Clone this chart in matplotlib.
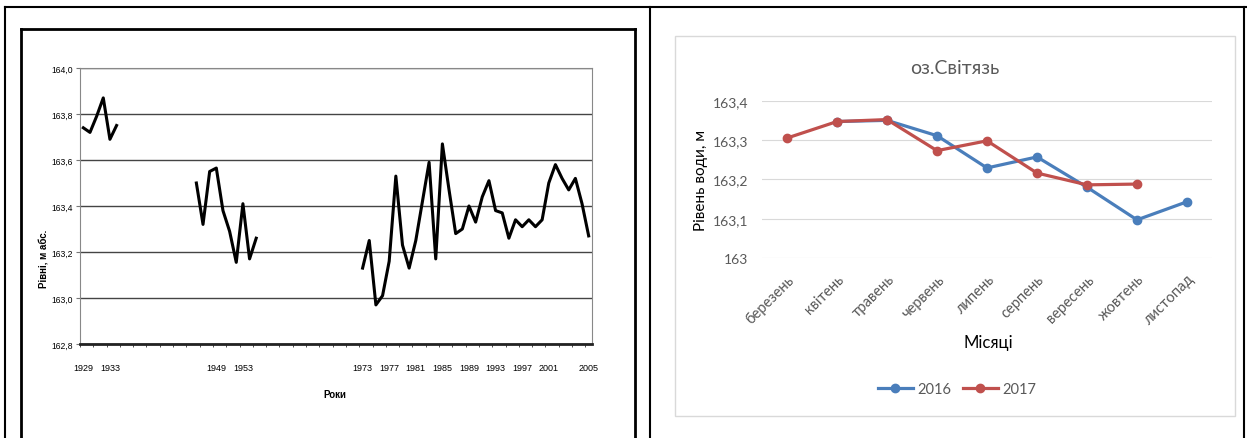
import numpy as np
import matplotlib.pyplot as plt
from matplotlib.lines import Line2D
from matplotlib.patches import Rectangle

W, H = 1247, 439

# left chart: long-term lake level, category axis with gaps
seg_starts = [0, 17, 42]
seg_levels = [
    [163.74, 163.72, 163.79, 163.87, 163.69, 163.75],
    [163.50, 163.32, 163.55, 163.565, 163.38, 163.29, 163.155, 163.41, 163.17, 163.26],
    [163.13, 163.25, 162.97, 163.01, 163.16, 163.53, 163.23, 163.13, 163.25, 163.42,
     163.59, 163.17, 163.67, 163.47, 163.28, 163.30, 163.40, 163.33, 163.44, 163.51,
     163.38, 163.37, 163.26, 163.34, 163.31, 163.34, 163.31, 163.34, 163.50, 163.58,
     163.52, 163.47, 163.52, 163.41, 163.27],
]
n_cat = 77
year_tick_pos = [0, 4, 20, 24, 42, 46, 50, 54, 58, 62, 66, 70, 76]
year_ticks = ['1929', '1933', '1949', '1953', '1973', '1977', '1981', '1985',
              '1989', '1993', '1997', '2001', '2005']
left_yticks = [162.8, 163.0, 163.2, 163.4, 163.6, 163.8, 164.0]

# right chart: monthly levels 2016/2017
months = ['березень', 'квітень', 'травень', 'червень', 'липень', 'серпень',
          'вересень', 'жовтень', 'листопад']
lev_2016 = [np.nan, 163.347, 163.350, 163.311, 163.229, 163.257, 163.180, 163.097, 163.143]
lev_2017 = [163.305, 163.347, 163.352, 163.273, 163.298, 163.216, 163.186, 163.188, np.nan]
right_yticks = [163.0, 163.1, 163.2, 163.3, 163.4]


def box(x0, y0, x1, y1):
    return [x0 / W, 1 - y1 / H, (x1 - x0) / W, (y1 - y0) / H]


def fig_line(x0, y0, x1, y1, **kw):
    fig.add_artist(Line2D([x0 / W, x1 / W], [1 - y0 / H, 1 - y1 / H],
                          transform=fig.transFigure, **kw))


fig = plt.figure(figsize=(W / 100, H / 100), dpi=100)

# table frame
fig_line(5, 8, 1247, 8, color='black', lw=1.5)
fig_line(5, 8, 5, 439, color='black', lw=1.5)
fig_line(650, 8, 650, 439, color='black', lw=1.5)
fig_line(1244, 8, 1244, 439, color='black', lw=1.5)
# scanned figure frame
fig_line(21, 30, 635, 30, color='black', lw=2)
fig_line(21, 30, 21, 439, color='black', lw=2)
fig_line(635, 30, 635, 439, color='black', lw=2)

narrow = ['Liberation Sans Narrow', 'Liberation Sans', 'DejaVu Sans']

# ---- left chart
ax1 = fig.add_axes(box(80, 69, 592, 345))
level = np.full(n_cat, np.nan)
for s, vals in zip(seg_starts, seg_levels):
    level[s:s + len(vals)] = vals
ax1.plot(np.arange(n_cat), level, color='black', lw=2.2)
ax1.set_xlim(-0.5, n_cat - 0.5)
ax1.set_ylim(162.8, 164.0)
ax1.set_yticks(left_yticks)
ax1.set_yticklabels([f'{v:.1f}'.replace('.', ',') for v in left_yticks],
                    family=narrow, fontsize=6.2)
ax1.yaxis.grid(True, color='#444444', lw=1)
ax1.set_xticks(year_tick_pos)
ax1.set_xticklabels(year_ticks, family=narrow, fontsize=6.5)
ax1.set_xticks(np.arange(0, n_cat, 2) - 0.5, minor=True)
ax1.tick_params(axis='x', which='major', length=0, pad=14)
ax1.tick_params(axis='x', which='minor', length=2.5, color='#333333', direction='out')
ax1.tick_params(axis='y', length=3, color='#777777', pad=2)
for side in ['left', 'right', 'top']:
    ax1.spines[side].set_color('#888888')
    ax1.spines[side].set_linewidth(0.8)
ax1.spines['bottom'].set_linewidth(2)
ax1.spines['bottom'].set_color('#222222')
fig.text(44 / W, 1 - 259 / H, 'Рівні, м абс.', rotation=90, ha='center', va='center',
         family=narrow, fontsize=7, fontweight='bold')
fig.text(335 / W, 1 - 395 / H, 'Роки', ha='center', va='center',
         family=narrow, fontsize=7, fontweight='bold')

# ---- right chart
excel = ['Lato', 'DejaVu Sans']
fig.add_artist(Rectangle((675 / W, 1 - 417 / H), 560 / W, 380 / H, transform=fig.transFigure,
                         facecolor='none', edgecolor='#d9d9d9', lw=1))
ax2 = fig.add_axes(box(762, 101.7, 1212, 259))
x = np.arange(len(months))
ax2.plot(x, lev_2016, color='#4a7ebb', lw=2.3, marker='o', ms=6, label='2016')
ax2.plot(x, lev_2017, color='#c0504d', lw=2.3, marker='o', ms=6, label='2017')
ax2.set_xlim(-0.5, len(months) - 0.5)
ax2.set_ylim(163.0, 163.4)
ax2.set_yticks(right_yticks)
ax2.set_yticklabels([f'{v:g}'.replace('.', ',') for v in right_yticks],
                    family=excel, fontsize=10, color='#595959')
ax2.yaxis.grid(True, color='#d9d9d9', lw=0.8)
ax2.set_axisbelow(True)
ax2.set_xticks(x)
ax2.set_xticklabels(months, rotation=45, ha='right', va='top', rotation_mode='anchor',
                    family=excel, fontsize=10.5, color='#595959')
ax2.tick_params(length=0)
ax2.tick_params(axis='x', pad=10)
ax2.tick_params(axis='y', pad=10)
for side in ax2.spines.values():
    side.set_visible(False)
fig.text(955 / W, 1 - 68 / H, 'оз.Світязь', ha='center', va='center',
         family=excel, fontsize=14, color='#595959')
fig.text(988 / W, 1 - 343 / H, 'Місяці', ha='center', va='center',
         family=excel, fontsize=12, color='black')
fig.text(701 / W, 1 - 180 / H, 'Рівень води, м', rotation=90, ha='center', va='center',
         family=excel, fontsize=11, color='black')
leg = ax2.legend(loc='center', bbox_to_anchor=(957 / W, 1 - 390 / H),
                 bbox_transform=fig.transFigure, ncol=2, frameon=False,
                 handlelength=2.4, columnspacing=0.8, handletextpad=0.3,
                 prop={'family': excel, 'size': 10.5})
for t in leg.get_texts():
    t.set_color('#595959')

fig.savefig('out.png', dpi=100)
